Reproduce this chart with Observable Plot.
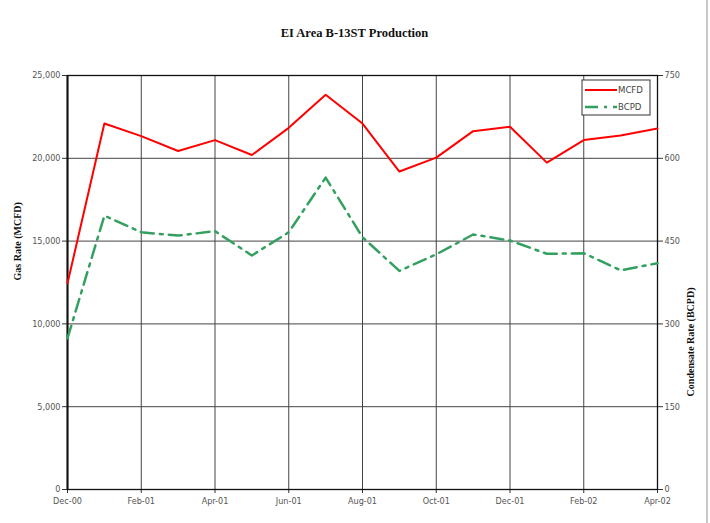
<!DOCTYPE html>
<html>
<head>
<meta charset="utf-8">
<script src="https://cdn.jsdelivr.net/npm/d3@7"></script>
<script src="https://cdn.jsdelivr.net/npm/@observablehq/plot@0.6"></script>
<style>
  html, body { margin: 0; padding: 0; background: #fff; }
  #chart { position: relative; width: 710px; height: 523px; }
</style>
</head>
<body>
<div id="chart"></div>
<script>
const months = ["Dec-00","Jan-01","Feb-01","Mar-01","Apr-01","May-01","Jun-01","Jul-01","Aug-01",
                "Sep-01","Oct-01","Nov-01","Dec-01","Jan-02","Feb-02","Mar-02","Apr-02"];
const mcfd = [12450, 22100, 21340, 20440, 21100, 20200, 21840, 23840, 22100,
              19200, 20040, 21640, 21900, 19740, 21100, 21380, 21800];
const bcpd = [274, 496, 466, 460, 468, 424, 466, 565, 457,
              396, 426, 462, 451, 427, 428, 397, 410];
const xTickLabels = ["Dec-00","Feb-01","Apr-01","Jun-01","Aug-01","Oct-01","Dec-01","Feb-02","Apr-02"];
const gasTicks = [0, 5000, 10000, 15000, 20000, 25000];
const condTicks = [0, 150, 300, 450, 600, 750];
const title = "EI Area B-13ST Production";
const leftLabel = "Gas Rate (MCFD)";
const rightLabel = "Condensate Rate (BCPD)";
const seriesNames = ["MCFD", "BCPD"];

const ratio = 750 / 25000; // BCPD per MCFD on the shared scale
const rows = months.map((m, i) => ({month: m, mcfd: mcfd[i], bcpd: bcpd[i]}));

const RED = "#ff0000";
const GREEN = "#33a060";
const DASH = "13,6,3,6";
const tickFont = "'Liberation Sans Narrow', 'DejaVu Sans Condensed', 'Arial Narrow', sans-serif";
const serif = "'Liberation Serif', 'DejaVu Serif', serif";

const plot = Plot.plot({
  width: 710,
  height: 523,
  marginTop: 75,
  marginBottom: 34,
  marginLeft: 67,
  marginRight: 53,
  style: {fontFamily: tickFont, fontSize: "9px", color: "#555", background: "#fff"},
  x: {type: "point", domain: months, padding: 0, round: false, insetLeft: 0, insetRight: 0},
  y: {domain: [0, 25000], insetTop: 0, insetBottom: 0},
  marks: [
    Plot.gridX(xTickLabels, {stroke: "#444", strokeOpacity: 1}),
    Plot.gridY(gasTicks, {stroke: "#444", strokeOpacity: 1}),
    Plot.axisX(xTickLabels, {tickSize: 4, tickPadding: 4, label: null, stroke: "#333"}),
    Plot.axisY(gasTicks, {anchor: "left", tickSize: 5, tickPadding: 2, label: null,
      stroke: "#333", tickFormat: d3.format(",")}),
    Plot.axisY(gasTicks, {anchor: "right", tickSize: 5, tickPadding: 2, label: null,
      stroke: "#333", tickFormat: (d, i) => String(condTicks[i])}),
    Plot.frame({stroke: "#111", strokeWidth: 1.3}),
    Plot.ruleX([months[0]], {stroke: "#111", strokeWidth: 2}),
    Plot.line(rows, {x: "month", y: "mcfd", stroke: RED, strokeWidth: 2}),
    Plot.line(rows, {x: "month", y: d => d.bcpd / ratio, stroke: GREEN, strokeWidth: 2.5,
      strokeDasharray: DASH}),
    Plot.text([title], {frameAnchor: "top", dy: -47, dx: -8, fontFamily: serif,
      fontWeight: "bold", fontSize: 12.5, fill: "#111"}),
    Plot.text([leftLabel], {frameAnchor: "left", dx: -50, dy: -2, rotate: -90,
      fontFamily: serif, fontWeight: "bold", fontSize: 10, fill: "#111"}),
    Plot.text([rightLabel], {frameAnchor: "right", dx: 33, dy: 5, rotate: -90,
      fontFamily: serif, fontWeight: "bold", fontSize: 10, fill: "#111"})
  ]
});

document.getElementById("chart").appendChild(plot);

// Legend and right border, drawn onto the same SVG
const svg = d3.select(plot);
const lg = svg.append("g").attr("text-anchor", "start");
lg.append("rect").attr("x", 582).attr("y", 80).attr("width", 68).attr("height", 35)
  .attr("fill", "#fff").attr("stroke", "#333").attr("stroke-width", 1);
const colors = [RED, GREEN];
const dashes = [null, DASH];
seriesNames.forEach((name, i) => {
  const y = 90 + i * 17;
  lg.append("line").attr("x1", 585).attr("x2", 617).attr("y1", y).attr("y2", y)
    .attr("stroke", colors[i]).attr("stroke-width", i ? 2.5 : 2)
    .attr("stroke-dasharray", dashes[i]);
  lg.append("text").attr("x", 618).attr("y", y).attr("dy", "0.35em")
    .attr("text-anchor", "start")
    .attr("font-family", tickFont).attr("font-size", 9.5).attr("fill", "#444").text(name);
});
svg.append("line").attr("x1", 707).attr("x2", 707).attr("y1", 0).attr("y2", 523)
  .attr("stroke", "#c8c8c8").attr("stroke-width", 2);
</script>
</body>
</html>
